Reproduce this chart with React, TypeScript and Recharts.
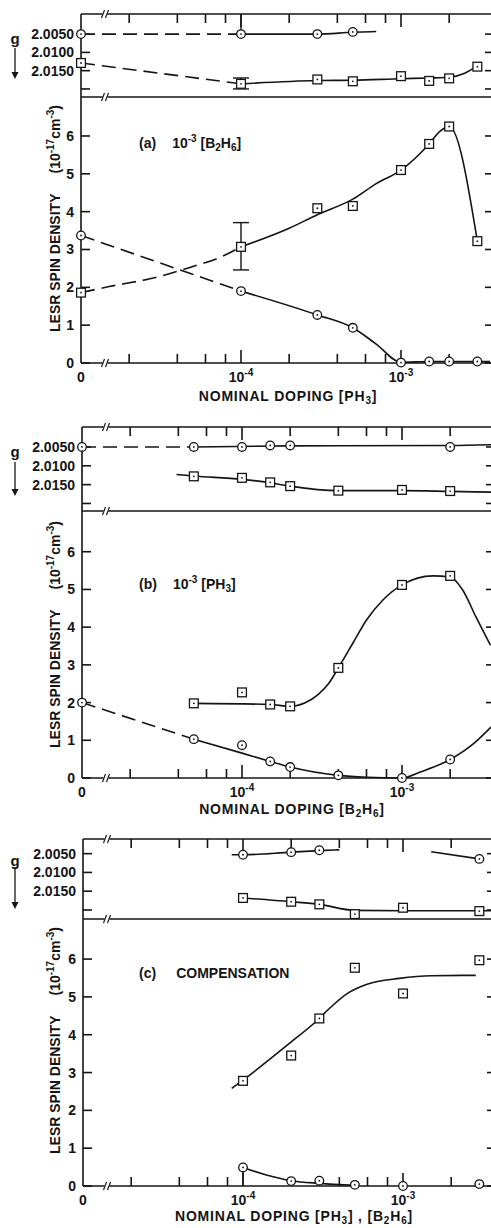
import type { ReactNode } from 'react'
import { ComposedChart, Line, Scatter, XAxis, YAxis, ErrorBar } from 'recharts'

// x axis: log10 of nominal doping, "0" is drawn one decade left of 1e-4
const U0 = -5
const U_MAX = -2.4
const U_BREAK = -4.85
const toU = (d: number) => (d === 0 ? U0 : Math.log10(d))

const majorTicks = [1e-4, 1e-3]
const majorTickExp = ['-4', '-3']
const minorTicks = [2e-5, 4e-5, 6e-5, 8e-5, 2e-4, 4e-4, 6e-4, 8e-4, 2e-3]
const spinTicks = [0, 1, 2, 3, 4, 5, 6]
const gTicks = [2.005, 2.01, 2.015, 2.02]
const gTickLabels = ['2.0050', '2.0100', '2.0150', '']

// ---------- (a) 10^-3 [B2H6], PH3 varied ----------
const aGCircX = [0, 1e-4, 3e-4, 5e-4]
const aGCircY = [2.005, 2.005, 2.005, 2.0044]
const aGSqX = [0, 1e-4, 3e-4, 5e-4, 1e-3, 1.5e-3, 2e-3, 3e-3]
const aGSqY = [2.0129, 2.0186, 2.0174, 2.0179, 2.0165, 2.0178, 2.0171, 2.0139]
const aSpinSqX = [0, 1e-4, 3e-4, 5e-4, 1e-3, 1.5e-3, 2e-3, 3e-3]
const aSpinSqY = [1.86, 3.07, 4.09, 4.15, 5.1, 5.79, 6.25, 3.22]
const aSpinCircX = [0, 1e-4, 3e-4, 5e-4, 1e-3, 1.5e-3, 2e-3, 3e-3]
const aSpinCircY = [3.37, 1.9, 1.27, 0.93, 0.01, 0.04, 0.04, 0.04]
// drawn curves
const aGCircDashX = [0, 1e-4]
const aGCircDashY = [2.005, 2.005]
const aGCircFitX = [1e-4, 3e-4, 5e-4, 7e-4]
const aGCircFitY = [2.005, 2.005, 2.0045, 2.0043]
const aGSqDashX = [0, 1e-4]
const aGSqDashY = [2.0129, 2.0186]
const aGSqFitX = [1e-4, 3e-4, 5e-4, 1e-3, 1.5e-3, 2e-3, 2.5e-3, 3e-3]
const aGSqFitY = [2.0186, 2.0177, 2.0176, 2.0172, 2.017, 2.0168, 2.0157, 2.0137]
const aSqDashX = [0, 1.5e-5, 3e-5, 5e-5, 7e-5, 1e-4]
const aSqDashY = [1.86, 2.02, 2.27, 2.55, 2.75, 3.07]
const aSqFitX = [1e-4, 2e-4, 3e-4, 5e-4, 7e-4, 1e-3, 1.5e-3, 1.75e-3, 2e-3, 3e-3]
const aSqFitY = [3.07, 3.56, 3.92, 4.33, 4.74, 5.1, 5.79, 6.12, 6.25, 3.22]
const aCircDashX = [0, 1e-4]
const aCircDashY = [3.37, 1.9]
const aCircFitX = [1e-4, 3e-4, 5e-4, 7e-4, 1e-3, 1.5e-3, 2e-3, 3e-3, 3.6e-3]
const aCircFitY = [1.9, 1.27, 0.93, 0.5, 0.02, 0.04, 0.04, 0.04, 0.04]
// error bars [x, y, minus, plus]
const aGBar = [1e-4, 2.0186, 0.0016, 0.0014]
const aGStem = [1e-4, 2.005, 0.0055, 0]
const aSpinBar = [1e-4, 3.07, 0.61, 0.64]

// ---------- (b) 10^-3 [PH3], B2H6 varied ----------
const bGCircX = [0, 5e-5, 1e-4, 1.5e-4, 2e-4, 2e-3]
const bGCircY = [2.005, 2.005, 2.005, 2.0046, 2.0046, 2.005]
const bGSqX = [5e-5, 1e-4, 1.5e-4, 2e-4, 4e-4, 1e-3, 2e-3]
const bGSqY = [2.0128, 2.0132, 2.0144, 2.0154, 2.0166, 2.0164, 2.0167]
const bSpinSqX = [5e-5, 1e-4, 1.5e-4, 2e-4, 4e-4, 1e-3, 2e-3]
const bSpinSqY = [1.98, 2.27, 1.95, 1.9, 2.92, 5.12, 5.36]
const bSpinCircX = [0, 5e-5, 1e-4, 1.5e-4, 2e-4, 4e-4, 1e-3, 2e-3]
const bSpinCircY = [2.0, 1.03, 0.87, 0.44, 0.29, 0.07, 0.0, 0.49]
const bGCircDashX = [0, 5e-5]
const bGCircDashY = [2.005, 2.005]
const bGCircFitX = [5e-5, 2e-4, 2e-3, 3.6e-3]
const bGCircFitY = [2.005, 2.0047, 2.0046, 2.0044]
const bGSqFitX = [3.9e-5, 5e-5, 1e-4, 1.5e-4, 2e-4, 4e-4, 1e-3, 2e-3, 3.6e-3]
const bGSqFitY = [2.0123, 2.0127, 2.0136, 2.0145, 2.0154, 2.0166, 2.0166, 2.0168, 2.017]
const bSqFitX = [5e-5, 1.5e-4, 2e-4, 2.5e-4, 3e-4, 3.5e-4, 4e-4, 5e-4, 6e-4, 7.6e-4, 1e-3, 1.56e-3, 2e-3, 2.4e-3, 2.9e-3, 3.57e-3]
const bSqFitY = [1.98, 1.95, 1.9, 2.0, 2.22, 2.52, 2.92, 3.62, 4.19, 4.72, 5.12, 5.36, 5.33, 4.98, 4.27, 3.52]
const bCircDashX = [0, 5e-5]
const bCircDashY = [2.0, 1.03]
const bCircFitX = [5e-5, 1e-4, 1.5e-4, 2e-4, 4e-4, 6e-4, 1e-3, 1.3e-3, 2e-3, 2.8e-3, 3.6e-3]
const bCircFitY = [1.03, 0.66, 0.44, 0.29, 0.07, 0.02, 0.0, 0.16, 0.49, 0.91, 1.35]
const bGStem = [2e-3, 2.005, 0, 0.0009]

// ---------- (c) compensation ----------
const cGCircX = [1e-4, 2e-4, 3e-4, 3e-3]
const cGCircY = [2.0053, 2.0046, 2.0041, 2.0064]
const cGSqX = [1e-4, 2e-4, 3e-4, 5e-4, 1e-3, 3e-3]
const cGSqY = [2.0168, 2.0178, 2.0185, 2.0211, 2.0194, 2.0203]
const cSpinSqX = [1e-4, 2e-4, 3e-4, 5e-4, 1e-3, 3e-3]
const cSpinSqY = [2.78, 3.45, 4.43, 5.77, 5.09, 5.97]
const cSpinCircX = [1e-4, 2e-4, 3e-4, 5e-4, 1e-3, 3e-3]
const cSpinCircY = [0.49, 0.13, 0.14, 0.03, 0.0, 0.05]
const cGCircFit1X = [8.5e-5, 1e-4, 2e-4, 3e-4, 4e-4]
const cGCircFit1Y = [2.0053, 2.0053, 2.0046, 2.0042, 2.004]
const cGCircFit2X = [1.5e-3, 3e-3]
const cGCircFit2Y = [2.0045, 2.0064]
const cGSqFitX = [1e-4, 2e-4, 3e-4, 5e-4, 1e-3, 3e-3, 3.6e-3]
const cGSqFitY = [2.0168, 2.0178, 2.0185, 2.0201, 2.0202, 2.0202, 2.0202]
const cSqFitX = [8.5e-5, 1e-4, 2e-4, 3e-4, 3.4e-4, 4.6e-4, 5.9e-4, 9.5e-4, 1.5e-3, 2.85e-3]
const cSqFitY = [2.58, 2.8, 3.81, 4.43, 4.66, 5.12, 5.33, 5.49, 5.56, 5.57]
const cCircFitX = [1e-4, 1.4e-4, 2e-4, 3e-4, 5e-4]
const cCircFitY = [0.49, 0.29, 0.14, 0.07, 0.02]
const cSpinStem = [1e-4, 0.49, 0.49, 0]

const INK = '#141414'
const FONT = '"Liberation Sans", Arial, Helvetica, sans-serif'
const txt = { fontFamily: FONT, fontWeight: 700, fontSize: 14, fill: INK }

type P = { u: number; v: number; e?: number[] }
const pts = (xs: number[], ys: number[]): P[] => xs.map((d, i) => ({ u: toU(d), v: ys[i] }))
const bar = (b: number[]): P[] => [{ u: toU(b[0]), v: b[1], e: [b[2], b[3]] }]

interface Curve { d: P[]; dashed?: boolean; straight?: boolean }
interface Bars { d: P[]; cap: number }
interface PanelCfg {
  id: string
  gTop: number
  split: number
  base: number
  left: number
  gDomain: [number, number]
  spinMax: number
  gLines: Curve[]
  gCirc: P[]
  gSq: P[]
  gBars: Bars[]
  spinLines: Curve[]
  spinCirc: P[]
  spinSq: P[]
  spinBars: Bars[]
  label: ReactNode
  labelY: number
  xTitle: ReactNode
  xTitleX: number
  xTitleDy: number
  yTitleBottom: number
  gLabelY: number
  arrow: [number, number]
}

const Sup = ({ c }: { c: string }) => <span style={{ fontSize: 10, position: 'relative', top: -6 }}>{c}</span>
const Sub = ({ c }: { c: string }) => <span style={{ fontSize: 10, position: 'relative', top: 3 }}>{c}</span>

const panels: PanelCfg[] = [
  {
    id: 'a', gTop: 14, split: 97, base: 363, left: 81,
    gDomain: [1.9995, 2.0222], spinMax: 7.03,
    gLines: [
      { d: pts(aGCircDashX, aGCircDashY), dashed: true, straight: true },
      { d: pts(aGCircFitX, aGCircFitY) },
      { d: pts(aGSqDashX, aGSqDashY), dashed: true, straight: true },
      { d: pts(aGSqFitX, aGSqFitY) },
    ],
    gCirc: pts(aGCircX, aGCircY), gSq: pts(aGSqX, aGSqY),
    gBars: [{ d: bar(aGBar), cap: 8 }, { d: bar(aGStem), cap: 0 }],
    spinLines: [
      { d: pts(aSqDashX, aSqDashY), dashed: true },
      { d: pts(aSqFitX, aSqFitY) },
      { d: pts(aCircDashX, aCircDashY), dashed: true, straight: true },
      { d: pts(aCircFitX, aCircFitY) },
    ],
    spinCirc: pts(aSpinCircX, aSpinCircY), spinSq: pts(aSpinSqX, aSpinSqY),
    spinBars: [{ d: bar(aSpinBar), cap: 8 }],
    label: <>(a)<span style={{ marginLeft: 16 }}>10<Sup c="-3" /> [B<Sub c="2" />H<Sub c="6" />]</span></>,
    labelY: 143,
    xTitle: <>NOMINAL DOPING [PH<Sub c="3" />]</>,
    xTitleX: 288, xTitleDy: 25, yTitleBottom: 332, gLabelY: 41, arrow: [48, 78],
  },
  {
    id: 'b', gTop: 427, split: 511, base: 778, left: 82,
    gDomain: [1.9997, 2.022], spinMax: 7.08,
    gLines: [
      { d: pts(bGCircDashX, bGCircDashY), dashed: true, straight: true },
      { d: pts(bGCircFitX, bGCircFitY) },
      { d: pts(bGSqFitX, bGSqFitY) },
    ],
    gCirc: pts(bGCircX, bGCircY), gSq: pts(bGSqX, bGSqY),
    gBars: [{ d: bar(bGStem), cap: 0 }],
    spinLines: [
      { d: pts(bSqFitX, bSqFitY) },
      { d: pts(bCircDashX, bCircDashY), dashed: true, straight: true },
      { d: pts(bCircFitX, bCircFitY) },
    ],
    spinCirc: pts(bSpinCircX, bSpinCircY), spinSq: pts(bSpinSqX, bSpinSqY),
    spinBars: [],
    label: <>(b)<span style={{ marginLeft: 16 }}>10<Sup c="-3" /> [PH<Sub c="3" />]</span></>,
    labelY: 584,
    xTitle: <>NOMINAL DOPING [B<Sub c="2" />H<Sub c="6" />]</>,
    xTitleX: 292, xTitleDy: 23, yTitleBottom: 748, gLabelY: 454, arrow: [462, 495],
  },
  {
    id: 'c', gTop: 839, split: 919, base: 1186, left: 83,
    gDomain: [2.0011, 2.0224], spinMax: 7.06,
    gLines: [
      { d: pts(cGCircFit1X, cGCircFit1Y) },
      { d: pts(cGCircFit2X, cGCircFit2Y), straight: true },
      { d: pts(cGSqFitX, cGSqFitY) },
    ],
    gCirc: pts(cGCircX, cGCircY), gSq: pts(cGSqX, cGSqY),
    gBars: [],
    spinLines: [
      { d: pts(cSqFitX, cSqFitY) },
      { d: pts(cCircFitX, cCircFitY) },
    ],
    spinCirc: pts(cSpinCircX, cSpinCircY), spinSq: pts(cSpinSqX, cSpinSqY),
    spinBars: [{ d: bar(cSpinStem), cap: 0 }],
    label: <>(c)<span style={{ marginLeft: 20 }}>COMPENSATION</span></>,
    labelY: 973,
    xTitle: <>NOMINAL DOPING [PH<Sub c="3" />] , [B<Sub c="2" />H<Sub c="6" />]</>,
    xTitleX: 294, xTitleDy: 22, yTitleBottom: 1154, gLabelY: 863, arrow: [867, 908],
  },
]

const majorU = majorTicks.map(toU)
const minorU = minorTicks.map(toU)
const near = (a: number, b: number) => Math.abs(a - b) < 1e-9

function BreakMark({ x, y }: { x: number; y: number }) {
  return (
    <g>
      <rect x={x - 2.5} y={y - 2} width={5} height={4} fill="#fff" />
      <line x1={x - 3.5} y1={y + 4} x2={x - 0.5} y2={y - 4} stroke={INK} strokeWidth={1.2} />
      <line x1={x + 0.5} y1={y + 4} x2={x + 3.5} y2={y - 4} stroke={INK} strokeWidth={1.2} />
    </g>
  )
}

// ticks point into the plot: dir = -1 (up) on the bottom axis, +1 (down) on the top axis
const xTick = (dir: number, labels: boolean) => (props: any) => {
  const { x, y, payload } = props
  const u = payload.value as number
  if (near(u, U_BREAK)) return <BreakMark x={x} y={y} />
  if (near(u, U0)) return labels ? <text x={x} y={y + 19} textAnchor="middle" {...txt}>0</text> : <g />
  const mi = majorU.findIndex(m => near(m, u))
  const len = mi >= 0 ? 13 : 9
  return (
    <g>
      <line x1={x} x2={x} y1={y} y2={y + dir * len} stroke={INK} strokeWidth={1.6} />
      {labels && mi >= 0 && (
        <text x={x} y={y + 19} textAnchor="middle" {...txt}>
          10<tspan dy={-6} fontSize={10}>{majorTickExp[mi]}</tspan>
        </text>
      )}
    </g>
  )
}
const splitTick = (props: any) => (near(props.payload.value, U_BREAK) ? <BreakMark x={props.x} y={props.y} /> : <g />)

const leftTick = (fmt: (v: number) => string) => (props: any) => {
  const { x, y, payload } = props
  return (
    <g>
      <line x1={x} x2={x + 9} y1={y} y2={y} stroke={INK} strokeWidth={1.6} />
      <text x={x - 7} y={y + 5} textAnchor="end" {...txt}>{fmt(payload.value)}</text>
    </g>
  )
}
const rightTick = (props: any) => <line x1={props.x} x2={props.x - 12} y1={props.y} y2={props.y} stroke={INK} strokeWidth={1.6} />

const Circ = (p: any) => (
  <g>
    <circle cx={p.cx} cy={p.cy} r={4.3} fill="#fff" stroke={INK} strokeWidth={1.3} />
    <circle cx={p.cx} cy={p.cy} r={0.9} fill={INK} />
  </g>
)
const Sq = (p: any) => (
  <g>
    <rect x={p.cx - 4.4} y={p.cy - 4.4} width={8.8} height={8.8} fill="#fff" stroke={INK} strokeWidth={1.3} />
    <circle cx={p.cx} cy={p.cy} r={0.9} fill={INK} />
  </g>
)
const Hidden = () => <g />

const axisLine = { stroke: INK, strokeWidth: 1.6 }
const xTicksAll = [U0, U_BREAK, ...minorU, ...majorU]
const layer = { position: 'absolute' as const, left: 0 }

function series(lines: Curve[], bars: Bars[], circ: P[], sq: P[]) {
  return [
    ...lines.map((c, i) => (
      <Line
        key={'l' + i} data={c.d} dataKey="v" xAxisId="b" yAxisId="l"
        type={c.straight ? 'linear' : 'monotone'} stroke={INK} strokeWidth={1.6}
        strokeDasharray={c.dashed ? '14 7' : undefined} dot={false} activeDot={false}
        isAnimationActive={false}
      />
    )),
    ...bars.map((b, i) => (
      <Scatter key={'b' + i} data={b.d} xAxisId="b" yAxisId="l" shape={Hidden} isAnimationActive={false}>
        <ErrorBar dataKey="e" direction="y" width={b.cap} stroke={INK} strokeWidth={1.4} isAnimationActive={false} />
      </Scatter>
    )),
    <Scatter key="c" data={circ} xAxisId="b" yAxisId="l" shape={Circ} isAnimationActive={false} />,
    <Scatter key="s" data={sq} xAxisId="b" yAxisId="l" shape={Sq} isAnimationActive={false} />,
  ]
}

// invisible points so every axis of the frame layer has a domain to work from
function anchors(d: P[]) {
  return [
    <Scatter key="al" data={d} xAxisId="b" yAxisId="l" shape={Hidden} isAnimationActive={false} />,
    <Scatter key="ar" data={d} xAxisId="t" yAxisId="r" shape={Hidden} isAnimationActive={false} />,
  ]
}

function Panel({ p }: { p: PanelCfg }) {
  const w = p.left + 426
  const gh = p.split - p.gTop
  const sh = p.base - p.split
  const gDom = p.gDomain
  const sDom: [number, number] = [0, p.spinMax]
  return (
    <>
      {/* g-value strip: frame first, data on top */}
      <div style={{ ...layer, top: p.gTop - 20 }}>
        <ComposedChart width={w} height={gh + 40} margin={{ top: 0, right: 0, bottom: 0, left: 0 }}>
          <XAxis xAxisId="t" orientation="top" type="number" dataKey="u" domain={[U0, U_MAX]} ticks={xTicksAll}
            interval={0} height={20} tickSize={0} tickMargin={0} tickLine={false} axisLine={axisLine} tick={xTick(1, false)} />
          <XAxis xAxisId="b" orientation="bottom" type="number" dataKey="u" domain={[U0, U_MAX]} ticks={[U_BREAK]}
            interval={0} height={20} tickSize={0} tickMargin={0} tickLine={false} axisLine={axisLine} tick={splitTick} />
          <YAxis yAxisId="l" type="number" dataKey="v" domain={gDom} reversed ticks={gTicks} interval={0}
            width={p.left} tickSize={0} tickMargin={0} tickLine={false} axisLine={axisLine}
            tick={leftTick(v => gTickLabels[gTicks.findIndex(t => near(t, v))] ?? '')} />
          <YAxis yAxisId="r" orientation="right" type="number" dataKey="v" domain={gDom} reversed ticks={gTicks}
            interval={0} width={10} tickSize={0} tickMargin={0} tickLine={false} axisLine={axisLine} tick={rightTick} />
          {anchors(p.gSq)}
        </ComposedChart>
      </div>
      <div style={{ ...layer, top: p.gTop - 20 }}>
        <ComposedChart width={w} height={gh + 40} margin={{ top: 20, right: 10, bottom: 20, left: p.left }}>
          <XAxis xAxisId="b" type="number" dataKey="u" domain={[U0, U_MAX]} hide />
          <YAxis yAxisId="l" type="number" dataKey="v" domain={gDom} reversed hide />
          {series(p.gLines, p.gBars, p.gCirc, p.gSq)}
        </ComposedChart>
      </div>

      {/* spin density plot */}
      <div style={{ ...layer, top: p.split - 20 }}>
        <ComposedChart width={w} height={sh + 80} margin={{ top: 20, right: 0, bottom: 0, left: 0 }}>
          <XAxis xAxisId="b" orientation="bottom" type="number" dataKey="u" domain={[U0, U_MAX]} ticks={xTicksAll}
            interval={0} height={60} tickSize={0} tickMargin={0} tickLine={false} axisLine={axisLine} tick={xTick(-1, true)} />
          <XAxis xAxisId="t" orientation="top" type="number" dataKey="u" domain={[U0, U_MAX]} hide />
          <YAxis yAxisId="l" type="number" dataKey="v" domain={sDom} ticks={spinTicks} interval={0}
            width={p.left} tickSize={0} tickMargin={0} tickLine={false} axisLine={axisLine} tick={leftTick(v => String(v))} />
          <YAxis yAxisId="r" orientation="right" type="number" dataKey="v" domain={sDom} ticks={spinTicks}
            interval={0} width={10} tickSize={0} tickMargin={0} tickLine={false} axisLine={axisLine} tick={rightTick} />
          {anchors(p.spinSq)}
        </ComposedChart>
      </div>
      <div style={{ ...layer, top: p.split - 20 }}>
        <ComposedChart width={w} height={sh + 80} margin={{ top: 20, right: 10, bottom: 60, left: p.left }}>
          <XAxis xAxisId="b" type="number" dataKey="u" domain={[U0, U_MAX]} hide />
          <YAxis yAxisId="l" type="number" dataKey="v" domain={sDom} hide />
          {series(p.spinLines, p.spinBars, p.spinCirc, p.spinSq)}
        </ComposedChart>
      </div>

      {/* g label with downward arrow */}
      <div style={{ position: 'absolute', left: 8, top: p.gLabelY - 10, width: 14, textAlign: 'center', fontSize: 15, lineHeight: '16px' }}>g</div>
      <svg style={{ position: 'absolute', left: 10, top: p.arrow[0] }} width={10} height={p.arrow[1] - p.arrow[0] + 2}>
        <line x1={5} x2={5} y1={0} y2={p.arrow[1] - p.arrow[0] - 4} stroke={INK} strokeWidth={1.3} />
        <polygon points={`1.5,${p.arrow[1] - p.arrow[0] - 6} 8.5,${p.arrow[1] - p.arrow[0] - 6} 5,${p.arrow[1] - p.arrow[0] + 1}`} fill={INK} />
      </svg>
      {/* spin density axis title */}
      <div style={{ position: 'absolute', left: 47, top: p.yTitleBottom, transformOrigin: '0 0', transform: 'rotate(-90deg)',
        whiteSpace: 'nowrap', fontSize: 14, lineHeight: '16px' }}>
        LESR SPIN DENSITY<span style={{ marginLeft: 20 }}>(10<Sup c="-17" />cm<Sup c="-3" />)</span>
      </div>
      <div style={{ position: 'absolute', left: 139, top: p.labelY - 8, whiteSpace: 'nowrap', fontSize: 14, lineHeight: '16px' }}>
        {p.label}
      </div>
      <div style={{ position: 'absolute', left: p.xTitleX - 200, width: 400, top: p.base + p.xTitleDy, textAlign: 'center',
        whiteSpace: 'nowrap', fontSize: 14, lineHeight: '16px', letterSpacing: 0.8 }}>
        {p.xTitle}
      </div>
    </>
  )
}

export default function App() {
  return (
    <div style={{ position: 'absolute', left: 0, top: 0, width: 491, height: 1228, overflow: 'hidden', background: '#fff',
      fontFamily: FONT, fontWeight: 700, color: INK }}>
      {panels.map(p => <Panel key={p.id} p={p} />)}
    </div>
  )
}
